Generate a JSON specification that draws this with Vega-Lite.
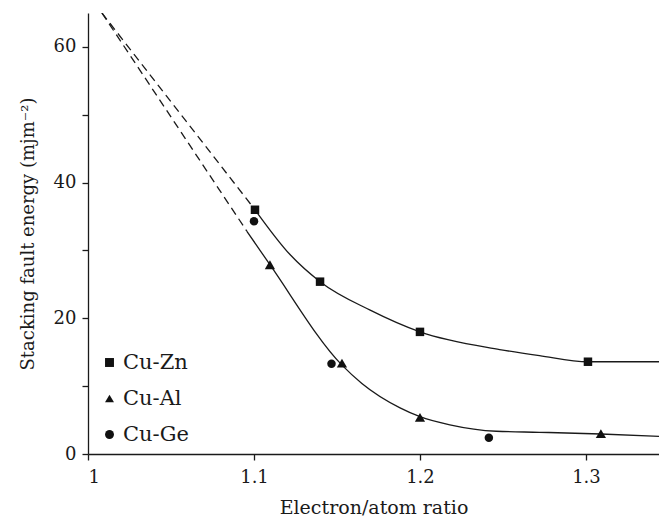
{
  "$schema": "https://vega.github.io/schema/vega-lite/v6.json",
  "width": 571,
  "height": 441,
  "autosize": {"type": "none"},
  "padding": {"left": 88, "top": 13, "right": 0, "bottom": 65},
  "background": "white",
  "config": {
    "view": {"stroke": null},
    "font": "DejaVu Serif",
    "axis": {
      "grid": false,
      "domainColor": "#1a1a1a",
      "domainWidth": 1.3,
      "tickColor": "#1a1a1a",
      "tickWidth": 1.3,
      "tickSize": 6,
      "labelFont": "DejaVu Serif",
      "labelFontSize": 18,
      "labelColor": "#1a1a1a",
      "titleFont": "DejaVu Serif",
      "titleFontSize": 18,
      "titleFontWeight": "normal",
      "titleColor": "#1a1a1a"
    }
  },
  "datasets": {
    "points": [
      {"alloy": "Cu-Zn", "x": 1.1006, "y": 36.0},
      {"alloy": "Cu-Zn", "x": 1.1398, "y": 25.4},
      {"alloy": "Cu-Zn", "x": 1.2, "y": 18.0},
      {"alloy": "Cu-Zn", "x": 1.3012, "y": 13.6},
      {"alloy": "Cu-Al", "x": 1.1096, "y": 27.9},
      {"alloy": "Cu-Al", "x": 1.153, "y": 13.4},
      {"alloy": "Cu-Al", "x": 1.2, "y": 5.4},
      {"alloy": "Cu-Al", "x": 1.309, "y": 3.0},
      {"alloy": "Cu-Ge", "x": 1.1, "y": 34.3},
      {"alloy": "Cu-Ge", "x": 1.1467, "y": 13.3},
      {"alloy": "Cu-Ge", "x": 1.2415, "y": 2.4}
    ],
    "curves": [
      {"curve": "upper", "x": 1.1006, "y": 36.0},
      {"curve": "upper", "x": 1.1217, "y": 29.4},
      {"curve": "upper", "x": 1.1398, "y": 25.4},
      {"curve": "upper", "x": 1.17, "y": 21.2},
      {"curve": "upper", "x": 1.2, "y": 18.0},
      {"curve": "upper", "x": 1.248, "y": 15.4},
      {"curve": "upper", "x": 1.272, "y": 14.5},
      {"curve": "upper", "x": 1.3012, "y": 13.6},
      {"curve": "upper", "x": 1.344, "y": 13.6},
      {"curve": "lower", "x": 1.0958, "y": 32.8},
      {"curve": "lower", "x": 1.1096, "y": 27.9},
      {"curve": "lower", "x": 1.153, "y": 13.1},
      {"curve": "lower", "x": 1.165, "y": 10.4},
      {"curve": "lower", "x": 1.188, "y": 6.8},
      {"curve": "lower", "x": 1.2, "y": 5.5},
      {"curve": "lower", "x": 1.218, "y": 4.3},
      {"curve": "lower", "x": 1.246, "y": 3.35},
      {"curve": "lower", "x": 1.272, "y": 3.2},
      {"curve": "lower", "x": 1.309, "y": 2.95},
      {"curve": "lower", "x": 1.344, "y": 2.6}
    ],
    "dashes": [
      {"curve": "upper", "x": 1.0084, "y": 65.0},
      {"curve": "upper", "x": 1.1006, "y": 36.0},
      {"curve": "lower", "x": 1.0084, "y": 65.0},
      {"curve": "lower", "x": 1.0958, "y": 32.8}
    ]
  },
  "layer": [
    {
      "data": {"name": "dashes"},
      "mark": {"type": "line", "color": "#1a1a1a", "strokeWidth": 1.3, "strokeDash": [8, 5], "clip": true},
      "encoding": {
        "x": {"field": "x", "type": "quantitative", "scale": {"domain": [1, 1.344], "nice": false, "zero": false},
          "axis": {"values": [1, 1.1, 1.2, 1.3], "title": "Electron/atom ratio", "titleFontSize": 19, "labelPadding": 8, "titlePadding": 12, "labelExpr": "format(datum.value, '')" }},
        "y": {"field": "y", "type": "quantitative", "scale": {"domain": [0, 65], "nice": false},
          "axis": {"values": [0, 10, 20, 30, 40, 50, 60], "labelExpr": "datum.value % 20 == 0 ? datum.label : ''", "title": "Stacking fault energy (mjm⁻²)", "labelPadding": 6, "titlePadding": 16}},
        "detail": {"field": "curve"}
      }
    },
    {
      "data": {"name": "curves"},
      "mark": {"type": "line", "color": "#1a1a1a", "strokeWidth": 1.3, "interpolate": "monotone"},
      "encoding": {
        "x": {"field": "x", "type": "quantitative"},
        "y": {"field": "y", "type": "quantitative"},
        "detail": {"field": "curve"}
      }
    },
    {
      "data": {"name": "points"},
      "transform": [{"filter": "datum.alloy != 'Cu-Al'"}],
      "mark": {"type": "point", "filled": true, "color": "#111111", "size": 72, "opacity": 1},
      "encoding": {
        "x": {"field": "x", "type": "quantitative"},
        "y": {"field": "y", "type": "quantitative"},
        "shape": {
          "field": "alloy", "type": "nominal",
          "scale": {"domain": ["Cu-Zn", "Cu-Al", "Cu-Ge"], "range": ["square", "triangle-up", "circle"]},
          "legend": {
            "orient": "none", "legendX": 11, "legendY": 339, "title": null,
            "padding": 0, "labelFont": "DejaVu Serif", "labelFontSize": 21, "labelColor": "#1a1a1a",
            "symbolSize": 80, "symbolFillColor": "#111111", "symbolStrokeWidth": 0, "symbolType": "circle",
            "rowPadding": 14, "labelOffset": 3
          }
        }
      }
    },
    {
      "data": {"name": "points"},
      "transform": [{"filter": "datum.alloy == 'Cu-Al'"}],
      "mark": {"type": "point", "filled": true, "color": "#111111", "size": 105, "opacity": 1},
      "encoding": {
        "x": {"field": "x", "type": "quantitative"},
        "y": {"field": "y", "type": "quantitative"},
        "shape": {"field": "alloy", "type": "nominal"}
      }
    }
  ]
}
